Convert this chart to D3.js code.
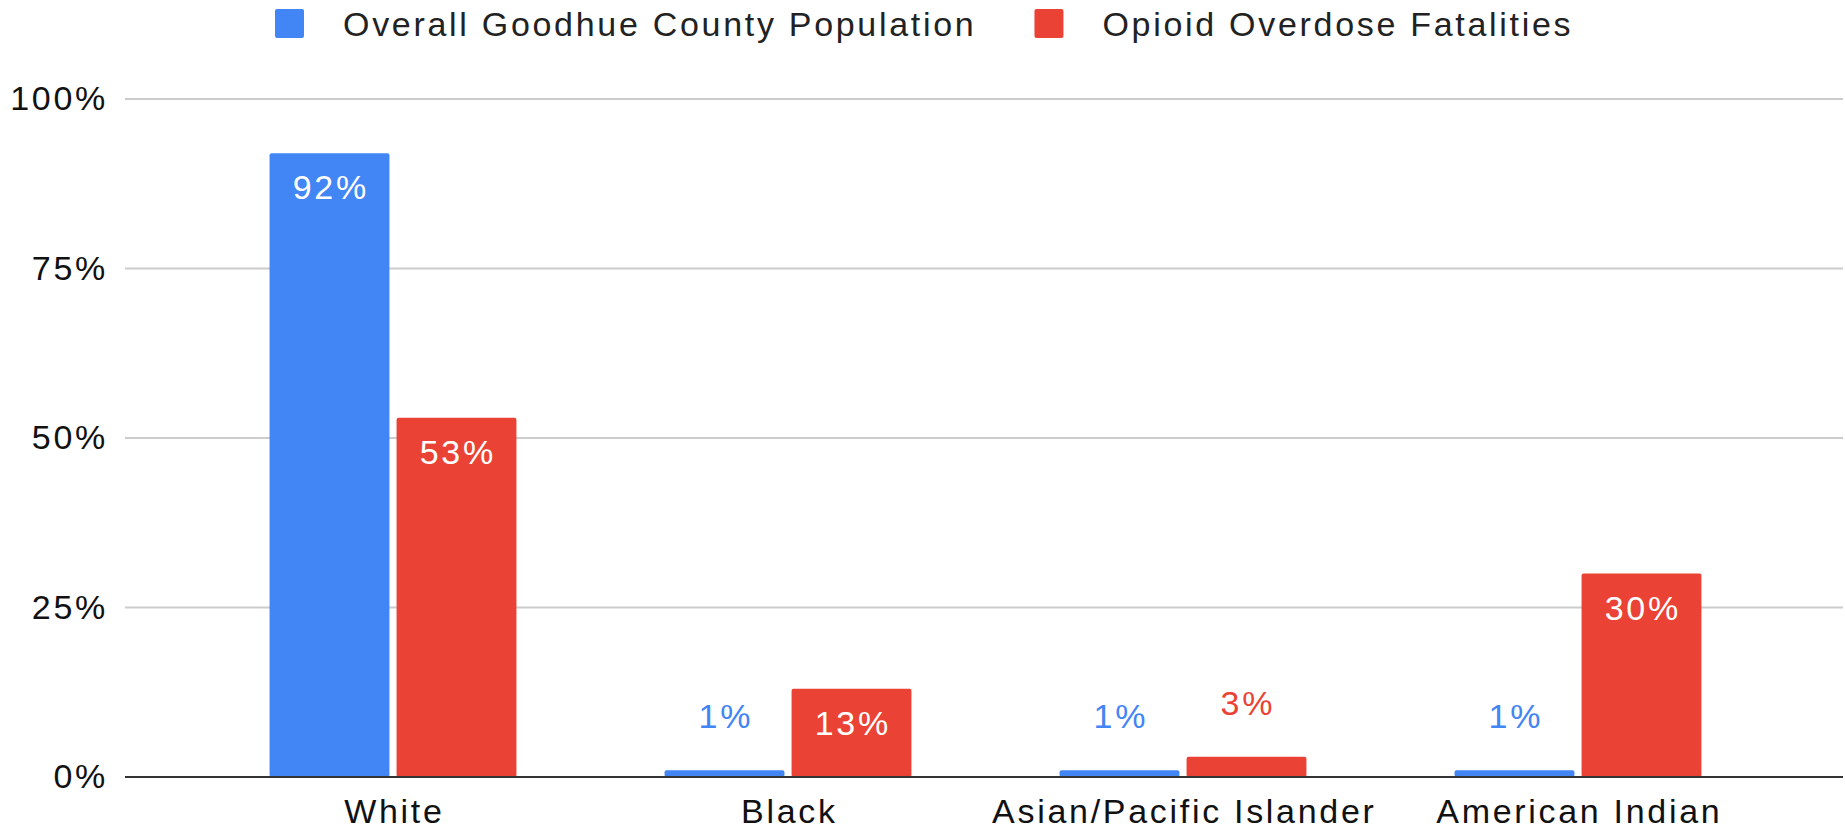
<!DOCTYPE html>
<html>
<head>
<meta charset="utf-8">
<script src="https://cdn.jsdelivr.net/npm/d3@7"></script>
<style>
  html, body { margin: 0; padding: 0; background: #ffffff; }
  svg text { font-family: Arial, "Liberation Sans", sans-serif; }
</style>
</head>
<body>
<svg id="chart" width="1845" height="829"></svg>
<script>
// Share of each race group: county population vs. opioid overdose deaths (percent)
const categories = ["White", "Black", "Asian/Pacific Islander", "American Indian"];
const seriesNames = ["Overall Goodhue County Population", "Opioid Overdose Fatalities"];
const populationPct = [92, 1, 1, 1];
const fatalitiesPct = [53, 13, 3, 30];
const yTicks = [0, 25, 50, 75, 100];

const colors = ["#4285f4", "#ea4335"];
const svg = d3.select("#chart");

const plot = { left: 125, right: 1843, top: 99, bottom: 777 };
const catLeft = 195.5, catRight = 1775.5;
const fontSize = 34;
const spacing = 2.7;

const y = d3.scaleLinear().domain([0, 100]).range([plot.bottom, plot.top]);
const x = d3.scaleBand().domain(categories).range([catLeft, catRight])
  .paddingInner(0.375).paddingOuter(0.1875);
const xs = d3.scaleBand().domain(seriesNames).range([0, x.bandwidth()]).paddingInner(0.056);

const fmt = v => v + "%";

// gridlines
svg.append("g").selectAll("line").data(yTicks.filter(t => t > 0)).join("line")
  .attr("x1", plot.left).attr("x2", plot.right)
  .attr("y1", d => y(d)).attr("y2", d => y(d))
  .attr("stroke", "#cccccc").attr("stroke-width", 2);

// y-axis labels
svg.append("g").selectAll("text").data(yTicks).join("text")
  .attr("x", 108).attr("y", d => y(d) + 11)
  .attr("text-anchor", "end")
  .attr("font-size", fontSize).attr("letter-spacing", spacing)
  .attr("fill", "#111111")
  .text(d => d + "%");

// bars
const rows = categories.map((c, i) => ({
  cat: c,
  vals: [
    { s: seriesNames[0], v: populationPct[i], color: colors[0] },
    { s: seriesNames[1], v: fatalitiesPct[i], color: colors[1] }
  ]
}));

const groups = svg.append("g").selectAll("g").data(rows).join("g")
  .attr("transform", d => `translate(${x(d.cat)},0)`);

groups.selectAll("rect").data(d => d.vals).join("rect")
  .attr("x", d => xs(d.s))
  .attr("width", xs.bandwidth())
  .attr("y", d => y(d.v))
  .attr("height", d => y(0) - y(d.v))
  .attr("rx", 2)
  .attr("fill", d => d.color);

// value labels: inside the bar when it is tall enough, above it otherwise
const fitsInside = d => (y(0) - y(d.v)) > 60;
groups.selectAll("text").data(d => d.vals).join("text")
  .attr("x", d => xs(d.s) + xs.bandwidth() / 2 + spacing / 2)
  .attr("y", d => fitsInside(d) ? y(d.v) + 46 : y(d.v) - 42)
  .attr("text-anchor", "middle")
  .attr("font-size", fontSize).attr("letter-spacing", spacing)
  .attr("fill", d => fitsInside(d) ? "#ffffff" : d.color)
  .text(d => fmt(d.v));

// baseline
svg.append("line")
  .attr("x1", plot.left).attr("x2", plot.right)
  .attr("y1", y(0)).attr("y2", y(0))
  .attr("stroke", "#333333").attr("stroke-width", 2);

// category labels
svg.append("g").selectAll("text").data(categories).join("text")
  .attr("x", d => x(d) + x.bandwidth() / 2 + spacing / 2)
  .attr("y", 823)
  .attr("text-anchor", "middle")
  .attr("font-size", fontSize).attr("letter-spacing", spacing)
  .attr("fill", "#111111")
  .text(d => d);

// legend
const legend = svg.append("g");
let lx = 275;
seriesNames.forEach((name, i) => {
  legend.append("rect")
    .attr("x", lx).attr("y", 9).attr("width", 29).attr("height", 29)
    .attr("rx", 2).attr("fill", colors[i]);
  const t = legend.append("text")
    .attr("x", lx + 68).attr("y", 36)
    .attr("font-size", fontSize).attr("letter-spacing", spacing)
    .attr("fill", "#222222")
    .text(name);
  lx = lx + 68 + t.node().getComputedTextLength() + 58;
});
</script>
</body>
</html>
